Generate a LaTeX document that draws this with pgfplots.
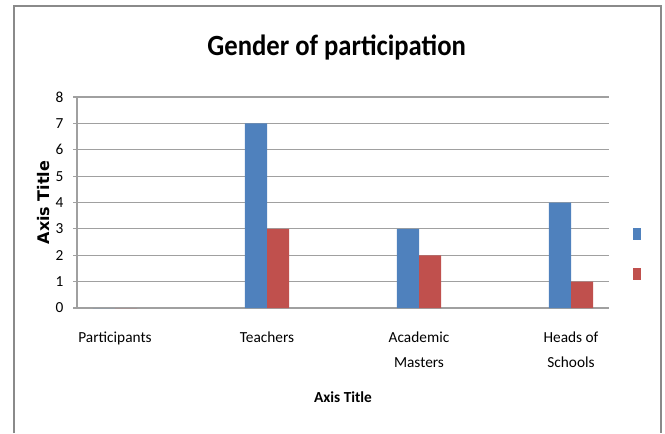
\documentclass[border=0pt]{standalone}
\usepackage{pgfplots}
\pgfplotsset{compat=1.18}
\usepackage{fontspec}
\setmainfont{Carlito}
\newfontfamily\dejavu{DejaVu Sans}
\definecolor{xlblue}{HTML}{4F81BD}
\definecolor{xlred}{HTML}{C0504D}
\definecolor{gridgray}{HTML}{A0A0A0}
\definecolor{framegray}{HTML}{8A8A8A}
\begin{document}
\begin{tikzpicture}
\path[use as bounding box] (0pt,0pt) rectangle (498.75pt,-324.75pt);
\draw[framegray, line width=1.1pt] (10.5pt,-324.75pt) -- (10.5pt,-4.5pt) -- (495.75pt,-4.5pt) -- (495.75pt,-324.75pt);
\node[font=\fontsize{20}{24}\selectfont\bfseries, yscale=1.1] at (252.5pt,-35.5pt) {Gender of participation};
\begin{axis}[
  at={(57.75pt,-231pt)}, anchor=south west,
  scale only axis, width=399pt, height=158.25pt,
  xmin=-0.25, xmax=3.25, ymin=0, ymax=8,
  ybar=0pt, bar width=0.145,
  xtick={0,1,2,3},
  xticklabels={Participants,Teachers,{Academic\\Masters},{Heads of\\Schools}},
  xticklabel style={align=center, font=\fontsize{11.5}{18.75}\selectfont, yshift=-11.5pt},
  x tick style={draw=none},
  ytick={0,...,8},
  yticklabel style={font=\fontsize{11.5}{14}\selectfont, xshift=-3.75pt},
  /pgf/number format/assume math mode=true,
  tick align=outside, major tick length=3pt,
  y tick style={gridgray, line width=0.9pt},
  ymajorgrids, grid style={gridgray, line width=0.9pt},
  axis x line*=bottom, axis y line*=left,
  axis line style={gridgray, line width=0.9pt, -},
  xlabel={Axis Title}, ylabel={Axis Title},
  xlabel style={font=\fontsize{11.5}{14}\selectfont\bfseries, at={(axis description cs:0.5,-0.422)}, anchor=center},
  ylabel style={font=\fontsize{12}{14}\selectfont\dejavu\bfseries, at={(axis description cs:-0.062,0.5)}, anchor=center},
  legend style={draw=none, fill=none, at={(1.045,0.256)}, anchor=west, inner sep=0pt, row sep=21pt,
    nodes={inner sep=0pt}},
]
\addplot[fill=xlblue, draw=none, legend image code/.code={\fill[xlblue] (0pt,-4.5pt) rectangle (6pt,4.5pt);}] coordinates {(0,0) (1,7) (2,3) (3,4)};
\addlegendentry{\hspace*{0pt}}
\addplot[fill=xlred, draw=none, legend image code/.code={\fill[xlred] (0pt,-4.5pt) rectangle (6pt,4.5pt);}] coordinates {(0,0) (1,3) (2,2) (3,1)};
\addlegendentry{\hspace*{0pt}}
\end{axis}
\end{tikzpicture}
\end{document}
